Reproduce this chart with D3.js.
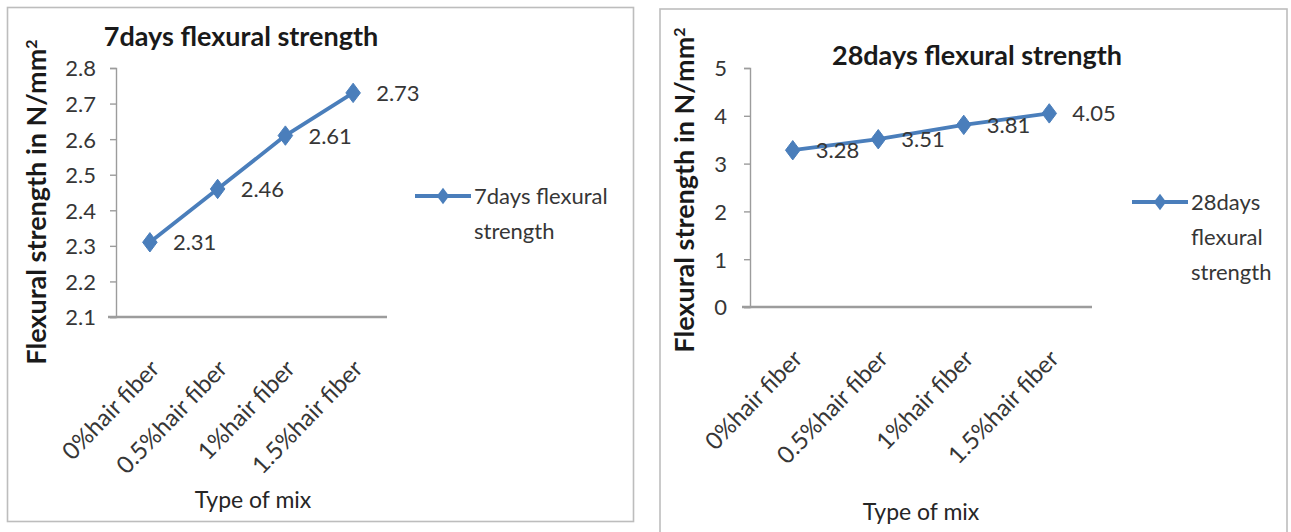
<!DOCTYPE html>
<html>
<head>
<meta charset="utf-8">
<script src="https://cdn.jsdelivr.net/npm/d3@7"></script>
<style>
  html, body { margin: 0; padding: 0; background: #ffffff; }
  svg { display: block; }
  text { font-family: Lato, "Open Sans", sans-serif; }
</style>
</head>
<body>
<svg id="chart" width="1291" height="532"></svg>
<script>
// Mix types on the category axis
const categories = ["0%hair fiber", "0.5%hair fiber", "1%hair fiber", "1.5%hair fiber"];

// Flexural strength (N/mm²) after 7 and 28 days of curing
const strength7 = [2.31, 2.46, 2.61, 2.73];
const strength28 = [3.28, 3.51, 3.81, 4.05];

// Value-axis tick labels
const ticks7 = [2.1, 2.2, 2.3, 2.4, 2.5, 2.6, 2.7, 2.8];
const ticks28 = [0, 1, 2, 3, 4, 5];

// Chart and legend titles
const titles = ["7days flexural strength", "28days flexural strength"];
const legend7 = ["7days flexural", "strength"];
const legend28 = ["28days", "flexural", "strength"];

const LINE = "#4a7ebb";
const TEXT = "#363636";
const AXIS = "#9c9c9c";

const svg = d3.select("#chart");

// Diamond marker a little taller than wide
const diamond = {
  draw(ctx, size) {
    const w = Math.sqrt(size) * 0.42, h = Math.sqrt(size) * 0.56;
    ctx.moveTo(0, -h); ctx.lineTo(w, 0); ctx.lineTo(0, h); ctx.lineTo(-w, 0); ctx.closePath();
  }
};

function panel(cfg) {
  const g = svg.append("g");

  // chart frame
  g.append("rect")
    .attr("x", cfg.frame[0]).attr("y", cfg.frame[1])
    .attr("width", cfg.frame[2]).attr("height", cfg.frame[3])
    .attr("fill", "none").attr("stroke", "#bdbdbd").attr("stroke-width", 1.6);

  const x = d3.scaleBand().domain(categories).range([cfg.x0, cfg.x1]);
  const y = d3.scaleLinear().domain(cfg.domain).range([cfg.yBottom, cfg.yTop]);

  // value axis
  const yAxis = g.append("g")
    .attr("transform", `translate(${cfg.x0},0)`)
    .call(d3.axisLeft(y).tickValues(cfg.ticks).tickSize(6).tickPadding(cfg.tickPad)
      .tickFormat(d3.format(cfg.fmt)));
  yAxis.select(".domain").attr("stroke", AXIS).attr("stroke-width", 1.4);
  yAxis.selectAll(".tick line").attr("stroke", AXIS).attr("stroke-width", 1.4);
  yAxis.selectAll(".tick text")
    .attr("fill", TEXT).style("font-size", "22px").attr("dy", "0.36em");

  // category axis
  const xAxis = g.append("g")
    .attr("transform", `translate(0,${cfg.yBottom})`)
    .call(d3.axisBottom(x).tickSize(0).tickFormat(""));
  xAxis.select(".domain").attr("stroke", AXIS).attr("stroke-width", 2.6)
    .attr("d", `M${cfg.x0 - 8},0H${cfg.x1}`);

  g.selectAll(".xlabel").data(categories).join("text")
    .attr("class", "xlabel")
    .attr("transform", d => `translate(${x(d) + x.bandwidth() / 2 + 11},${cfg.yBottom + 53}) rotate(-46)`)
    .attr("text-anchor", "end")
    .attr("fill", TEXT).style("font-size", "24px")
    .text(d => d);

  // series line and markers
  const pts = categories.map((c, i) => ({ c, v: cfg.values[i] }));
  g.append("path").datum(pts)
    .attr("fill", "none").attr("stroke", LINE).attr("stroke-width", 3.8)
    .attr("stroke-linejoin", "round")
    .attr("d", d3.line().x(d => x(d.c) + x.bandwidth() / 2).y(d => y(d.v)));

  g.selectAll(".marker").data(pts).join("path")
    .attr("class", "marker")
    .attr("transform", d => `translate(${x(d.c) + x.bandwidth() / 2},${y(d.v)})`)
    .attr("d", d3.symbol().type(diamond).size(300))
    .attr("fill", LINE).attr("stroke", LINE).attr("stroke-width", 1);

  // data labels
  g.selectAll(".vlabel").data(pts).join("text")
    .attr("class", "vlabel")
    .attr("x", d => x(d.c) + x.bandwidth() / 2 + cfg.labelDx)
    .attr("y", d => y(d.v))
    .attr("dy", "0.36em")
    .attr("fill", TEXT).style("font-size", "22px")
    .text(d => d3.format(".2f")(d.v));

  // chart title
  g.append("text")
    .attr("x", cfg.title[0]).attr("y", cfg.title[1])
    .attr("text-anchor", "middle")
    .attr("fill", "#1a1a1a").style("font-size", "27px").style("font-weight", 700)
    .text(cfg.titleText);

  // value-axis title
  const yt = g.append("text")
    .attr("transform", `translate(${cfg.yTitle[0]},${cfg.yTitle[1]}) rotate(-90)`)
    .attr("text-anchor", "middle")
    .attr("fill", "#1a1a1a").style("font-size", "27px").style("font-weight", 700);
  yt.append("tspan").text("Flexural strength in N/mm");
  yt.append("tspan").attr("baseline-shift", "super").style("font-size", "16px").text("2");

  // category-axis title
  g.append("text")
    .attr("x", cfg.xTitle[0]).attr("y", cfg.xTitle[1])
    .attr("text-anchor", "middle")
    .attr("fill", "#262626").style("font-size", "23px")
    .text("Type of mix");

  // legend
  const lg = g.append("g").attr("transform", `translate(${cfg.legend[0]},${cfg.legend[1]})`);
  lg.append("line").attr("x1", 0).attr("x2", cfg.legendLen).attr("y1", 0).attr("y2", 0)
    .attr("stroke", LINE).attr("stroke-width", 3.8);
  lg.append("path").attr("transform", `translate(${cfg.legendLen / 2},0)`)
    .attr("d", d3.symbol().type(diamond).size(220)).attr("fill", LINE);
  lg.selectAll("text").data(cfg.legendText).join("text")
    .attr("x", cfg.legendLen + 3).attr("y", (d, i) => i * cfg.legendGap)
    .attr("dy", "0.36em")
    .attr("fill", TEXT).style("font-size", "22px")
    .text(d => d);
}

panel({
  frame: [7.5, 7.5, 626, 514],
  x0: 116, x1: 387, yTop: 68, yBottom: 317,
  domain: [2.1, 2.8], ticks: ticks7, fmt: ".1f", tickPad: 14,
  values: strength7, labelDx: 23,
  titleText: titles[0], title: [241, 46],
  yTitle: [46, 202], xTitle: [253, 508],
  legend: [415, 196], legendLen: 56, legendGap: 35, legendText: legend7
});

panel({
  frame: [660, 9, 627, 530],
  x0: 750, x1: 1092, yTop: 68, yBottom: 307,
  domain: [0, 5], ticks: ticks28, fmt: "d", tickPad: 17,
  values: strength28, labelDx: 23,
  titleText: titles[1], title: [977, 65],
  yTitle: [694, 190], xTitle: [921, 520],
  legend: [1132, 202], legendLen: 56, legendGap: 35, legendText: legend28
});
</script>
</body>
</html>
